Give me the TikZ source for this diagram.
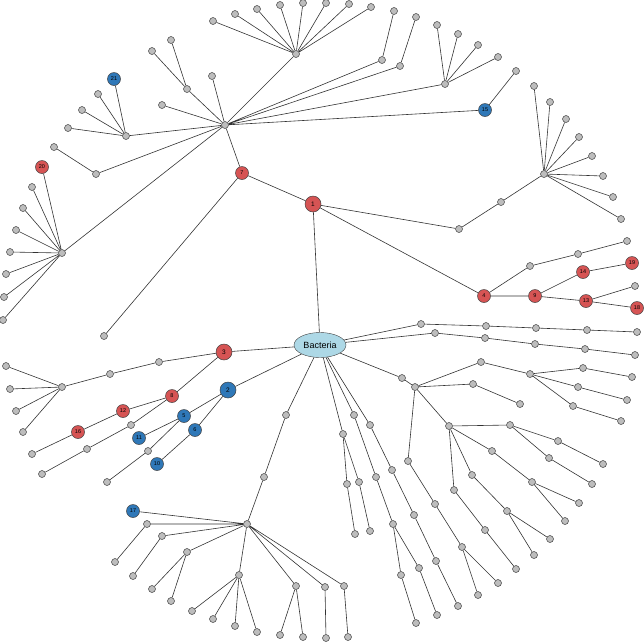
\documentclass[tikz,border=0pt]{standalone}
\usetikzlibrary{backgrounds,shapes.geometric}
\usepackage{fontspec}
\setmainfont{Liberation Sans}
\definecolor{gfill}{HTML}{BDBDBD}
\definecolor{rfill}{HTML}{D65454}
\definecolor{bfill}{HTML}{2F78B8}
\definecolor{efill}{HTML}{ADD8E6}
\tikzset{
 gnode/.style={circle,draw=black!75,line width=0.5pt,fill=gfill,inner sep=0pt,minimum size=7pt},
 rnode/.style={circle,draw=black!75,line width=0.5pt,fill=rfill,inner sep=0pt,minimum size=13pt,font=\fontsize{5.5}{6}\selectfont},
 bnode/.style={circle,draw=black!75,line width=0.5pt,fill=bfill,inner sep=0pt,minimum size=13pt,font=\fontsize{5.5}{6}\selectfont},
 big/.style={minimum size=16pt,font=\fontsize{6.5}{7}\selectfont},
 edge/.style={draw=black!80,line width=0.6pt}
}
\newcommand\gn[3]{\node[gnode] (#1) at (#2,#3) {};}
\newcommand\rn[4]{\node[rnode] (#1) at (#2,#3) {#4};}
\newcommand\bn[4]{\node[bnode] (#1) at (#2,#3) {#4};}
\begin{document}
\begin{tikzpicture}[x=1pt,y=-1pt]
\useasboundingbox (0,0) rectangle (644,641);
\node[ellipse,draw=black!75,fill=efill,minimum width=52pt,minimum height=25pt,inner sep=0pt,font=\fontsize{9}{10}\selectfont] (bac) at (320,345) {Bacteria};
% top-left
\node[rnode,big] (n1) at (313,204) {1};
\rn{n7}{242}{173}{7}
\gn{A}{225}{125}
\gn{B}{296}{54}
\gn{b1}{213}{21}\gn{b2}{235}{14}\gn{b3}{257}{9}\gn{b4}{280}{5}\gn{b5}{303}{3}\gn{b6}{326}{3}\gn{b7}{349}{4}\gn{b8}{371}{7}
\gn{C}{187}{89}\gn{c1}{152}{51}\gn{c2}{171}{40}
\gn{a1}{212}{76}\gn{a2}{162}{105}
\gn{D}{126}{136}\bn{n21}{114}{79}{21}\gn{d1}{98}{94}\gn{d2}{82}{110}\gn{d3}{68}{128}
\gn{E}{96}{174}\gn{e1}{54}{147}
\gn{F}{62}{253}\rn{n20}{42}{167}{20}
\gn{f1}{32}{187}\gn{f2}{23}{208}\gn{f3}{16}{230}\gn{f4}{10}{252}\gn{f5}{6}{274}\gn{f6}{4}{297}\gn{f7}{3}{320}
\gn{s1}{104}{336}
\gn{r1}{382}{60}\gn{r1a}{394}{11}\gn{r2}{400}{66}\gn{r2a}{416}{17}
\gn{G}{445}{84}\gn{g1}{437}{25}\gn{g2}{458}{34}\gn{g3}{478}{45}\gn{g4}{498}{57}
\bn{n15}{485}{110}{15}\gn{o15}{516}{71}
% right of 1
\gn{h0}{459}{229}\gn{h1}{501}{202}\gn{H}{544}{174}
\gn{hh1}{534}{86}\gn{hh2}{550}{102}\gn{hh3}{566}{119}\gn{hh4}{579}{137}\gn{hh5}{592}{156}\gn{hh6}{603}{176}\gn{hh7}{613}{197}\gn{hh8}{621}{219}
\rn{n4}{484}{296}{4}\gn{q1}{530}{266}\gn{q2}{578}{254}\gn{q3}{627}{241}
\rn{n9}{535}{296}{9}\rn{n14}{583}{272}{14}\rn{n19}{632}{263}{19}
\rn{n13}{586}{301}{13}\gn{q4}{635}{286}\rn{n18}{637}{308}{18}
% bottom-left
\node[rnode,big] (n3) at (224,352) {3};
\gn{i1}{159}{362}\gn{i2}{110}{374}\gn{I}{62}{387}
\gn{ii1}{6}{366}\gn{ii2}{10}{389}\gn{ii3}{16}{411}\gn{ii4}{23}{432}
\rn{n8}{172}{396}{8}\rn{n12}{123}{411}{12}\rn{n16}{78}{432}{16}\gn{p1}{32}{454}
\gn{p2}{131}{425}\gn{p3}{87}{449}\gn{p4}{42}{474}
\node[bnode,big] (n2) at (228,390) {2};
\bn{n5}{184}{416}{5}\bn{n11}{139}{438}{11}\gn{p5}{148}{451}\gn{p6}{107}{482}
\bn{n6}{195}{430}{6}\bn{n10}{157}{464}{10}
\gn{j1}{286}{415}\gn{j2}{264}{477}\gn{J}{247}{524}
\bn{n17}{133}{511}{17}
\gn{k1}{147}{524}\gn{k1a}{115}{562}\gn{k2}{162}{536}\gn{k2a}{133}{576}
\gn{k3}{187}{552}\gn{k3a}{152}{589}\gn{k3b}{171}{601}
\gn{K}{239}{575}\gn{K1}{192}{611}\gn{K2}{213}{619}\gn{K3}{235}{626}\gn{K4}{257}{632}
\gn{L}{296}{586}\gn{L1}{280}{635}\gn{L2}{303}{637}
\gn{k4}{325}{587}\gn{k4a}{326}{638}\gn{k5}{344}{586}\gn{k5a}{348}{637}
% bottom-right
\gn{t1}{421}{324}\gn{t2}{486}{326}\gn{t3}{536}{328}\gn{t4}{587}{330}\gn{t5}{637}{332}
\gn{u1}{435}{333}\gn{u2}{485}{338}\gn{u3}{535}{344}\gn{u4}{585}{349}\gn{u5}{635}{355}
\gn{m0}{402}{378}\gn{M}{415}{387}
\gn{m1}{481}{362}\gn{N}{530}{374}
\gn{N1}{583}{368}\gn{N1a}{632}{377}\gn{N2}{578}{387}\gn{N2a}{627}{400}\gn{N3}{573}{406}\gn{N3a}{621}{421}
\gn{m2}{473}{384}\gn{m2a}{520}{404}
\gn{m3}{408}{461}\gn{m3a}{435}{504}\gn{m3b}{462}{547}\gn{m3c}{498}{583}\gn{m3d}{478}{595}
\gn{O}{449}{426}
\gn{o1}{510}{425}\gn{o1a}{558}{441}\gn{o1b}{603}{464}\gn{o1c}{549}{458}\gn{o1d}{592}{484}
\gn{o2}{492}{451}\gn{o2a}{532}{482}\gn{o2b}{579}{503}\gn{o2c}{565}{521}
\gn{o3}{472}{475}\gn{o3a}{507}{511}\gn{o3b}{550}{539}\gn{o3c}{534}{555}
\gn{o4}{454}{490}\gn{o4a}{485}{530}\gn{o4b}{516}{569}
\gn{v1}{370}{425}\gn{v2}{392}{470}\gn{v3}{414}{515}\gn{v4}{436}{561}\gn{v5}{458}{606}
\gn{w1}{354}{415}\gn{w2}{376}{477}\gn{w3}{393}{524}\gn{w4}{419}{568}\gn{w5}{437}{615}\gn{w6}{401}{575}\gn{w7}{416}{623}
\gn{x1}{343}{434}\gn{x2}{347}{484}\gn{x3}{355}{534}\gn{x4}{359}{482}\gn{x5}{370}{531}
\begin{pgfonlayer}{background}
\path[edge] (bac)--(n1) (n1)--(n7) (n7)--(A) (n7)--(s1)
 (A)--(B) (A)--(C) (A)--(a1) (A)--(a2) (A)--(D) (A)--(E) (A)--(F)
 (A)--(r1) (A)--(r2) (A)--(G) (A)--(n15)
 (B)--(b1) (B)--(b2) (B)--(b3) (B)--(b4) (B)--(b5) (B)--(b6) (B)--(b7) (B)--(b8)
 (C)--(c1) (C)--(c2) (D)--(n21) (D)--(d1) (D)--(d2) (D)--(d3) (E)--(e1)
 (F)--(n20) (F)--(f1) (F)--(f2) (F)--(f3) (F)--(f4) (F)--(f5) (F)--(f6) (F)--(f7)
 (r1)--(r1a) (r2)--(r2a) (G)--(g1) (G)--(g2) (G)--(g3) (G)--(g4) (n15)--(o15)
 (n1)--(h0) (h0)--(h1) (h1)--(H)
 (H)--(hh1) (H)--(hh2) (H)--(hh3) (H)--(hh4) (H)--(hh5) (H)--(hh6) (H)--(hh7) (H)--(hh8)
 (n1)--(n4) (n4)--(q1) (q1)--(q2) (q2)--(q3) (n4)--(n9) (n9)--(n14) (n14)--(n19)
 (n9)--(n13) (n13)--(q4) (n13)--(n18)
 (bac)--(n3) (n3)--(i1) (i1)--(i2) (i2)--(I) (I)--(ii1) (I)--(ii2) (I)--(ii3) (I)--(ii4)
 (n3)--(n8) (n8)--(n12) (n12)--(n16) (n16)--(p1) (n8)--(p2) (p2)--(p3) (p3)--(p4)
 (bac)--(n2) (n2)--(n5) (n5)--(n11) (n5)--(p5) (p5)--(p6) (n2)--(n6) (n6)--(n10)
 (bac)--(j1) (j1)--(j2) (j2)--(J) (J)--(n17) (J)--(k1) (k1)--(k1a) (J)--(k2) (k2)--(k2a)
 (J)--(k3) (k3)--(k3a) (k3)--(k3b) (J)--(K) (K)--(K1) (K)--(K2) (K)--(K3) (K)--(K4)
 (J)--(L) (L)--(L1) (L)--(L2) (J)--(k4) (k4)--(k4a) (J)--(k5) (k5)--(k5a)
 (bac)--(t1) (t1)--(t2) (t2)--(t3) (t3)--(t4) (t4)--(t5)
 (bac)--(u1) (u1)--(u2) (u2)--(u3) (u3)--(u4) (u4)--(u5)
 (bac)--(m0) (m0)--(M) (M)--(m1) (m1)--(N) (N)--(N1) (N1)--(N1a) (N)--(N2) (N2)--(N2a) (N)--(N3) (N3)--(N3a)
 (M)--(m2) (m2)--(m2a) (M)--(m3) (m3)--(m3a) (m3a)--(m3b) (m3b)--(m3c) (m3b)--(m3d)
 (M)--(O) (O)--(o1) (o1)--(o1a) (o1a)--(o1b) (o1)--(o1c) (o1c)--(o1d)
 (O)--(o2) (o2)--(o2a) (o2a)--(o2b) (o2a)--(o2c)
 (O)--(o3) (o3)--(o3a) (o3a)--(o3b) (o3a)--(o3c)
 (O)--(o4) (o4)--(o4a) (o4a)--(o4b)
 (bac)--(v1) (v1)--(v2) (v2)--(v3) (v3)--(v4) (v4)--(v5)
 (bac)--(w1) (w1)--(w2) (w2)--(w3) (w3)--(w4) (w4)--(w5) (w3)--(w6) (w6)--(w7)
 (bac)--(x1) (x1)--(x2) (x2)--(x3) (x1)--(x4) (x4)--(x5);
\end{pgfonlayer}
\end{tikzpicture}
\end{document}
